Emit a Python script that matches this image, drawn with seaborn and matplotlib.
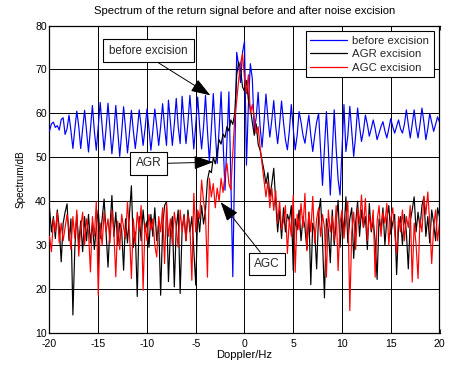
import numpy as np
import pandas as pd
import matplotlib
matplotlib.use("Agg")
import matplotlib.pyplot as plt
import seaborn as sns

# Doppler axis (Hz), 0.2 Hz spacing from -20 to 20
doppler = np.round(np.linspace(-20, 20, 201), 1)

# Spectrum before excision (dB)
before_excision = [
    56.0, 57.6, 58.0, 56.8, 57.2, 56.2, 58.6, 59.0, 55.2, 56.5,
    59.6, 56.0, 52.0, 56.5, 60.5, 57.0, 52.0, 56.5, 60.7, 56.0,
    51.2, 56.5, 61.8, 56.0, 51.6, 57.0, 62.5, 57.0, 51.6, 56.5,
    62.3, 56.5, 50.8, 55.5, 61.8, 56.0, 50.2, 55.5, 61.5, 56.5,
    51.0, 55.5, 60.7, 56.0, 52.0, 56.0, 60.8, 57.0, 52.7, 56.5,
    61.0, 56.5, 51.6, 56.0, 61.0, 57.0, 52.7, 57.0, 62.2, 57.0,
    52.7, 63.0, 58.0, 52.7, 57.5, 63.4, 57.0, 53.1, 63.9, 58.0,
    53.1, 58.0, 64.1, 58.0, 51.9, 57.5, 63.7, 57.0, 51.9, 57.0,
    64.1, 56.0, 49.0, 56.5, 64.5, 56.0, 48.6, 56.5, 64.9, 54.0,
    42.5, 54.0, 64.9, 45.0, 22.8, 50.0, 73.9, 70.9, 67.0, 73.9,
    76.4, 48.2, 62.0, 71.3, 67.9, 56.1, 59.0, 64.8, 57.0, 52.3,
    58.0, 64.4, 59.0, 54.6, 58.5, 62.9, 57.0, 53.1, 57.5, 62.8,
    58.0, 54.0, 51.7, 56.0, 62.0, 56.5, 51.7, 55.0, 60.4, 58.0,
    55.0, 53.2, 56.5, 59.6, 55.0, 51.3, 55.0, 58.0, 60.0, 52.0,
    43.6, 52.0, 60.4, 52.0, 41.4, 51.0, 60.8, 52.0, 45.0, 41.4,
    52.0, 62.0, 51.3, 55.0, 61.6, 56.0, 50.2, 55.0, 61.2, 57.0,
    53.6, 56.0, 59.6, 57.5, 54.8, 56.5, 58.5, 56.5, 54.0, 55.5,
    57.0, 58.1, 56.0, 54.4, 56.5, 58.8, 57.0, 55.5, 57.0, 58.5,
    56.5, 55.5, 57.5, 60.8, 57.5, 54.4, 57.5, 60.8, 57.0, 54.4,
    57.5, 61.2, 58.0, 54.0, 56.5, 60.0, 58.0, 55.9, 57.5, 59.2,
    58.0,
]

# Spectrum after AGR excision (dB)
agr_excision = [
    38.5, 33.0, 36.5, 31.5, 38.0, 34.0, 26.2, 35.0, 37.5, 39.4,
    31.0, 36.0, 14.1, 29.5, 37.0, 30.0, 35.5, 28.5, 36.5, 31.0,
    37.0, 30.5, 35.0, 29.0, 34.0, 38.0, 31.5, 36.0, 40.5, 33.0,
    25.0, 34.0, 41.3, 32.0, 37.5, 30.0, 35.0, 33.5, 24.3, 36.0,
    30.5, 37.0, 43.5, 29.5, 33.0, 18.3, 36.5, 31.0, 38.0, 33.0,
    35.5, 29.5, 37.0, 32.0, 38.5, 31.0, 35.0, 18.6, 34.0, 39.0,
    39.9, 21.7, 33.0, 36.5, 20.5, 34.0, 38.0, 19.0, 33.5, 37.0,
    31.0, 38.0, 33.0, 36.5, 29.0, 20.9, 37.5, 33.0, 39.0, 34.8,
    38.0, 44.8, 47.0, 46.5, 50.0, 48.5, 51.0, 54.0, 53.0, 55.3,
    54.5, 57.0, 56.0, 58.5, 57.5, 60.0, 68.7, 71.7, 70.0, 66.0,
    65.0, 67.5, 63.0, 61.0, 58.0, 55.0, 57.6, 53.0, 51.6, 49.3,
    47.0, 44.0, 46.5, 41.0, 44.0, 47.5, 40.0, 33.0, 38.0, 31.5,
    38.5, 33.0, 37.0, 35.5, 39.0, 24.2, 36.0, 33.5, 38.0, 31.0,
    36.5, 34.0, 29.0, 37.5, 21.0, 35.0, 33.0, 24.6, 37.0, 40.6,
    31.0, 18.0, 36.0, 33.5, 26.0, 38.0, 30.0, 35.0, 40.2, 29.5,
    37.0, 33.0, 41.0, 30.5, 36.0, 38.5, 27.0, 35.0, 40.0, 32.0,
    38.0, 34.0, 36.5, 29.0, 39.5, 33.0, 35.5, 31.0, 22.2, 36.0,
    33.5, 38.5, 30.0, 36.0, 39.0, 32.5, 35.0, 37.0, 23.3, 34.0,
    36.5, 30.0, 37.0, 33.0, 24.6, 35.5, 38.0, 41.0, 33.0, 37.5,
    34.0, 39.0, 41.0, 32.0, 36.5, 30.5, 38.0, 35.0, 31.0, 38.5,
    36.5,
]

# Spectrum after AGC excision (dB)
agc_excision = [
    32.0, 28.5, 36.0, 33.0, 37.5, 30.5, 35.0, 31.0, 34.0, 37.0,
    33.5, 29.0, 36.5, 31.5, 38.0, 27.5, 34.0, 37.5, 30.0, 36.0,
    33.0, 23.9, 36.5, 32.0, 39.9, 18.6, 35.0, 30.0, 37.5, 33.0,
    36.0, 30.5, 38.0, 33.0, 22.8, 35.5, 29.0, 37.0, 34.0, 31.5,
    39.9, 33.0, 22.4, 36.0, 30.5, 37.5, 33.5, 39.0, 19.7, 35.0,
    31.0, 37.0, 33.5, 36.0, 30.0, 27.3, 36.5, 33.0, 38.5, 25.8,
    39.5, 32.0, 36.0, 30.0, 37.5, 34.0, 29.5, 38.0, 33.0, 36.5,
    31.0, 37.0, 34.5, 22.0, 41.8, 33.0, 38.0, 36.0, 44.8, 40.0,
    37.0, 22.7, 45.2, 41.0, 44.0, 38.5, 43.0, 40.0, 45.2, 42.0,
    46.0, 48.6, 44.0, 42.6, 51.0, 58.8, 63.0, 67.5, 71.5, 73.5,
    68.0, 64.5, 68.8, 60.0, 62.0, 59.0, 55.4, 57.0, 52.3, 48.6,
    45.0, 41.0, 44.5, 38.5, 43.0, 37.9, 42.4, 35.0, 40.0, 33.5,
    35.6, 39.0, 28.1, 36.0, 32.0, 41.4, 23.8, 37.0, 33.5, 39.5,
    34.0, 41.8, 28.7, 37.5, 33.0, 41.1, 30.5, 36.0, 38.5, 32.0,
    37.0, 34.0, 22.7, 38.0, 33.0, 36.5, 31.0, 39.0, 24.2, 35.0,
    38.0, 31.5, 36.0, 40.0, 15.1, 33.0, 37.5, 29.0, 38.5, 35.0,
    41.4, 34.0, 40.6, 31.0, 37.0, 33.5, 38.0, 22.7, 35.5, 39.0,
    32.0, 37.5, 35.0, 39.5, 30.0, 36.0, 38.5, 33.0, 28.1, 36.5,
    33.0, 38.0, 31.0, 36.5, 34.0, 39.0, 21.6, 35.0, 30.0, 22.4,
    36.0, 33.0, 41.1, 37.0, 42.1, 35.0, 25.8, 34.0, 38.0, 31.0,
    35.0,
]

series_labels = ["before excision", "AGR excision", "AGC excision"]
series_colors = ["#0000ff", "#000000", "#ff0000"]
x_ticks = [-20, -15, -10, -5, 0, 5, 10, 15, 20]
y_ticks = [10, 20, 30, 40, 50, 60, 70, 80]

sns.set_theme(style="white")
plt.rcParams["font.family"] = ["Liberation Sans", "DejaVu Sans"]
plt.rcParams["axes.unicode_minus"] = False

fig = plt.figure(figsize=(4.52, 3.67), dpi=100)
ax = fig.add_axes([49.5 / 452, 1 - 333 / 367, 390 / 452, 307.5 / 367])

for vals, lab, col in zip([before_excision, agr_excision, agc_excision],
                          series_labels, series_colors):
    df = pd.DataFrame({"Doppler": doppler, "dB": vals})
    sns.lineplot(data=df, x="Doppler", y="dB", color=col, label=lab,
                 linewidth=0.85, ax=ax, zorder=3)

ax.set_xlim(-20, 20)
ax.set_ylim(10, 80)
ax.set_xticks(x_ticks)
ax.set_yticks(y_ticks)
ax.grid(True, color="black", linewidth=0.7, zorder=0)
ax.set_axisbelow(True)
ax.tick_params(direction="in", length=3, width=0.6, labelsize=7.6,
               top=True, right=True, bottom=True, left=True,
               color="black", labelcolor="black", pad=2)
ax.tick_params(axis="x", pad=4)
for s in ax.spines.values():
    s.set_color("black")
    s.set_linewidth(0.9)

ax.set_title("Spectrum of the return signal before and after noise excision",
             fontsize=8.1, color="black", pad=8)
ax.set_xlabel("Doppler/Hz", fontsize=8.0, color="black", labelpad=1)
ax.set_ylabel("Spectrum/dB", fontsize=7.2, color="black", labelpad=7)

leg = ax.legend(loc="upper right", fontsize=8.2, frameon=True, fancybox=False,
                edgecolor="black", framealpha=1, handlelength=3.2,
                labelspacing=0.3, borderaxespad=0.5, handletextpad=0.5,
                borderpad=0.4)
leg.get_frame().set_linewidth(0.8)
for ln in leg.get_lines():
    ln.set_linewidth(0.9)

arrow_kw = dict(arrowstyle="-|>,head_length=1.0,head_width=0.35",
                color="black", lw=0.7, mutation_scale=12,
                shrinkA=0, shrinkB=0)
box_kw = dict(boxstyle="square,pad=0.5", fc="white", ec="black", lw=0.8)

ax.annotate("before excision", xy=(-3.5, 64.1), xytext=(-9.85, 74.3),
            fontsize=8.4, ha="center", va="center", bbox=box_kw,
            arrowprops=dict(arrow_kw, relpos=(0.5, 0.0)), zorder=5)
ax.annotate("AGR", xy=(-3.2, 48.9), xytext=(-9.85, 48.6),
            fontsize=8.6, ha="center", va="center",
            bbox=dict(box_kw, boxstyle="square,pad=0.45"),
            arrowprops=dict(arrow_kw, relpos=(1.0, 0.5)), zorder=5)
ax.annotate("AGC", xy=(-2.45, 39.8), xytext=(2.3, 25.7),
            fontsize=8.6, ha="center", va="center",
            bbox=dict(box_kw, boxstyle="square,pad=0.45"),
            arrowprops=dict(arrow_kw, relpos=(0.42, 1.0)), zorder=5)

fig.savefig("out.png", dpi=100, facecolor="white")
